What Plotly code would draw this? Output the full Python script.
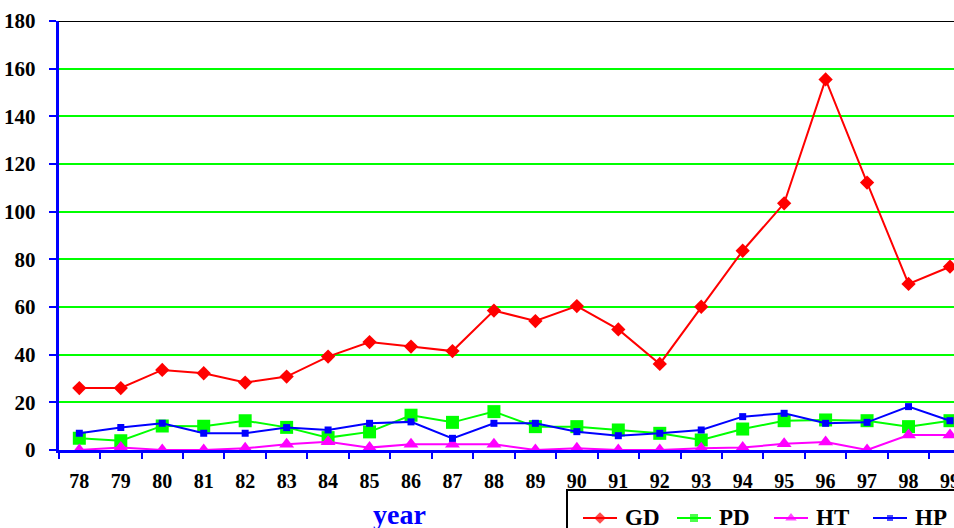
import plotly.graph_objects as go

# Yearly counts per category
years = ["78", "79", "80", "81", "82", "83", "84", "85", "86", "87", "88",
         "89", "90", "91", "92", "93", "94", "95", "96", "97", "98", "99"]
gd = [26, 26, 33.6, 32.2, 28.3, 30.8, 39.2, 45.3, 43.4, 41.5, 58.5,
      54.1, 60.4, 50.6, 36.1, 60.1, 83.6, 103.5, 155.5, 112.2, 69.7, 76.9]
pd_vals = [4.9, 3.9, 10.1, 10.0, 12.3, 9.5, 5.2, 7.6, 14.6, 11.6, 16.1,
           9.8, 9.8, 8.4, 7.0, 4.2, 8.8, 12.3, 12.6, 12.3, 9.8, 12.3]
ht = [0, 1.1, 0, 0, 0.7, 2.4, 3.5, 1.0, 2.4, 2.4, 2.4,
      0, 0.7, 0, 0, 0.7, 1.0, 2.6, 3.4, 0, 6.3, 6.3]
hp = [7.0, 9.4, 11.2, 7.0, 7.0, 9.4, 8.4, 11.2, 11.8, 4.9, 11.2,
      11.2, 7.7, 6.0, 7.0, 8.4, 14.0, 15.4, 11.2, 11.6, 18.2, 12.3]

series_names = ["GD", "PD", "HT", "HP"]
series_colors = ["#ff0000", "#00ff00", "#ff00ff", "#0000ff"]
series_symbols = ["diamond", "square", "triangle-up", "square"]
series_sizes = [11, 13, 13, 7]
legend_sizes = [9, 8, 10, 6]
y_ticks = [0, 20, 40, 60, 80, 100, 120, 140, 160, 180]

W, H = 954, 528
SERIF = "Liberation Serif, Times New Roman, serif"

fig = go.Figure()

# draw order: red first, then green, magenta and blue on top
for name, vals, color, sym, size in zip(series_names, [gd, pd_vals, ht, hp],
                                        series_colors, series_symbols, series_sizes):
    fig.add_trace(go.Scatter(
        x=years, y=vals, mode="lines+markers", name=name,
        line=dict(color=color, width=2),
        marker=dict(symbol=sym, size=size, color=color, line=dict(width=0)),
        showlegend=False, xaxis="x", yaxis="y",
    ))

# Legend drawn in a full-page pixel overlay so it can run off the page edge
leg_line_x = [583, 677, 774, 873]
leg_y = 518
for name, color, sym, size, lx in zip(series_names, series_colors, series_symbols,
                                      legend_sizes, leg_line_x):
    fig.add_trace(go.Scatter(
        x=[lx, lx + 17, lx + 34], y=[leg_y, leg_y, leg_y], mode="lines+markers",
        line=dict(color=color, width=2),
        marker=dict(symbol=sym, size=[0, size, 0], color=color, line=dict(width=0)),
        showlegend=False, xaxis="x2", yaxis="y2", hoverinfo="skip",
    ))
    fig.add_annotation(x=lx + 40, y=leg_y - 1, xref="x2", yref="y2", text=name,
                       showarrow=False, xanchor="left", yanchor="middle",
                       font=dict(family=SERIF, size=23, color="black", weight="bold"))

fig.add_shape(type="rect", xref="x2", yref="y2", x0=567, x1=1010, y0=490, y1=560,
              line=dict(color="black", width=2), fillcolor="rgba(0,0,0,0)")

# top border of the plot area
fig.add_shape(type="line", xref="x domain", yref="y", x0=0, x1=1, y0=180, y1=180,
              line=dict(color="black", width=2))

fig.add_annotation(x=399, y=514, xref="x2", yref="y2", text="year", showarrow=False,
                   xanchor="center", yanchor="middle",
                   font=dict(family=SERIF, size=28, color="#0000ff", weight="bold"))

x0_px, y0_px, ytop_px = 58.6, 450, 21
fig.update_layout(
    width=W, height=H,
    margin=dict(l=0, r=0, t=0, b=0, autoexpand=False),
    paper_bgcolor="white", plot_bgcolor="rgba(0,0,0,0)",
    font=dict(family=SERIF, size=20, color="black", weight="bold"),
    xaxis=dict(
        type="category", domain=[x0_px / W, 1],
        range=[-0.5, -0.5 + (W - x0_px) / 41.46],
        tickson="boundaries", ticks="outside", ticklen=6, tickwidth=2,
        tickcolor="#0000ff", showline=True, linecolor="#0000ff", linewidth=3,
        showgrid=False, zeroline=False, ticklabelstandoff=11,
        tickfont=dict(family=SERIF, size=20, color="black", weight="bold"),
        anchor="y", fixedrange=True,
    ),
    yaxis=dict(
        domain=[(H - y0_px) / H, (H - ytop_px) / H], range=[0, 180],
        tickvals=y_ticks, ticks="outside", ticklen=7, tickwidth=2,
        tickcolor="#0000ff", showline=True, linecolor="#0000ff", linewidth=3,
        showgrid=True, gridcolor="#00ff00", gridwidth=2, zeroline=False,
        ticklabelstandoff=9,
        tickfont=dict(family=SERIF, size=21, color="black", weight="bold"),
        anchor="x", fixedrange=True, automargin=False,
    ),
    xaxis2=dict(domain=[0, 1], range=[0, W], visible=False, anchor="y2", fixedrange=True),
    yaxis2=dict(domain=[0, 1], range=[H, 0], visible=False, anchor="x2", fixedrange=True),
    showlegend=False,
)

fig.write_html("out.html")
